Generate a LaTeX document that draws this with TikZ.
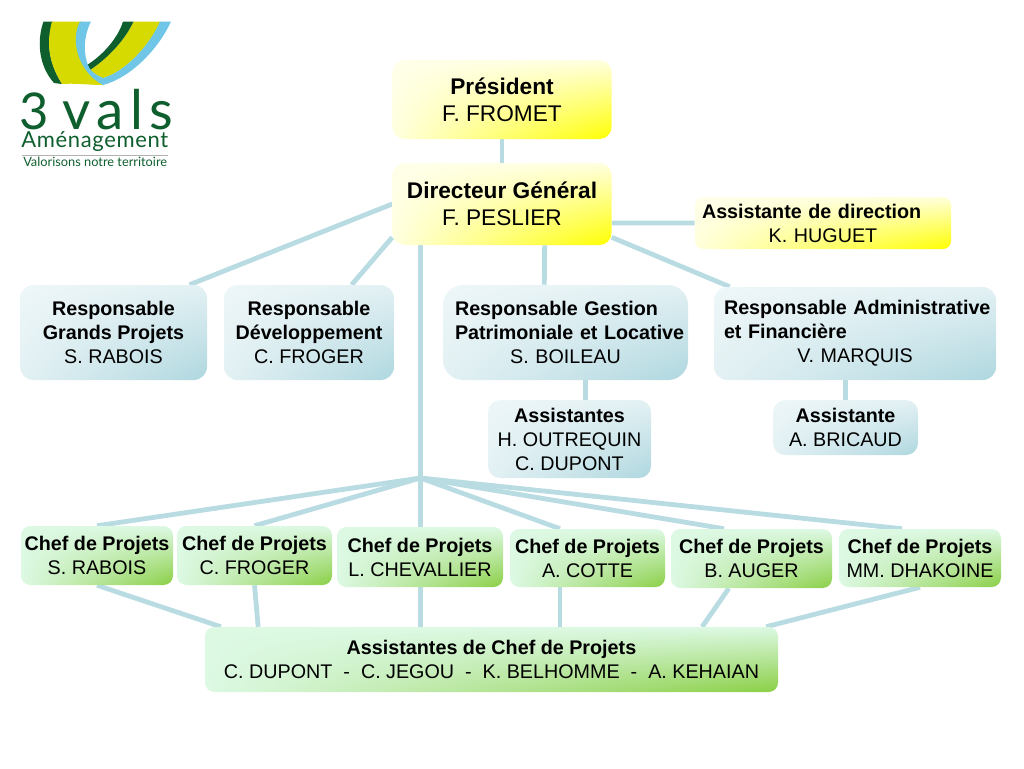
\documentclass[tikz,border=0pt]{standalone}
\usepackage{fontspec}
\setmainfont{Liberation Sans}
\newfontfamily\logofont{Lato}
\usetikzlibrary{backgrounds,shadings}
\definecolor{linkblue}{HTML}{B9DCE3}
\definecolor{logogreen}{HTML}{0F5F2E}
\definecolor{logolime}{HTML}{D6DA00}
\definecolor{logosky}{HTML}{6FC6E6}
\definecolor{chefpale}{HTML}{DDF9E4}
\definecolor{chefleaf}{HTML}{8ACF45}
\newcommand{\lefttitle}[1]{\makebox[\hsize][l]{\textbf{#1}}}

\begin{document}
\begin{tikzpicture}[
  x=0.75pt, y=-0.75pt,
  card/.style={shade, inner sep=0pt, align=center, rounded corners=9pt,
    font=\fontsize{14.8}{18}\selectfont},
  boxsize/.style 2 args={minimum width=#1*0.75pt, minimum height=#2*0.75pt},
  boss/.style={card, font=\fontsize{17}{20}\selectfont,
    upper left=yellow!8, upper right=yellow!12, lower left=yellow!12, lower right=yellow},
  aide/.style={card, upper left=yellow!8, upper right=yellow!14, lower left=yellow!14, lower right=yellow},
  resp/.style={card, upper left=linkblue!25, upper right=linkblue!40, lower left=linkblue!40, lower right=linkblue!115},
  chef/.style={card, rounded corners=7pt, upper left=chefpale, upper right=chefpale,
    lower left=chefpale, lower right=chefleaf},
  link/.style={linkblue, line width=3.6pt}]
\useasboundingbox (0,0) rectangle (1024,768);
% logo
\fill[logogreen] (43.5,21.5) -- (53,21.5) .. controls (47,40) and (47,60) .. (62,84) -- (54,83) .. controls (38,65) and (37,40) .. (43.5,21.5) -- cycle;
\fill[logolime] (52,21.5) -- (82,21.5) .. controls (74,40) and (78,68) .. (103,85) .. controls (90,85) and (75,83) .. (62,84) .. controls (47,60) and (47,40) .. (52,21.5) -- cycle;
\fill[logolime] (133.5,21.5) -- (161,21.5) .. controls (150,45) and (125,72) .. (103,78) .. controls (98,76) and (93,73) .. (90,70) .. controls (108,58) and (125,40) .. (133.5,21.5) -- cycle;
\fill[logogreen] (123,21.5) -- (133.5,21.5) .. controls (125,40) and (108,58) .. (90,70) -- (87,65) .. controls (103,55) and (118,38) .. (123,21.5) -- cycle;
\fill[logosky] (80,21.5) -- (91,21.5) .. controls (84,35) and (82,55) .. (90,69) .. controls (93,73) and (98,76) .. (103,78) .. controls (125,72) and (150,45) .. (160,21.5) -- (171,21.5) .. controls (158,50) and (130,78) .. (103,85) .. controls (78,72) and (70,40) .. (80,21.5) -- cycle;
\node[anchor=base west, inner sep=0pt, logogreen] (logothree) at (19,129) {\logofont\fontsize{38}{38}\selectfont 3};
\node[anchor=base west, inner sep=0pt, logogreen] (logovals) at (62,129) {\logofont\fontsize{41}{41}\selectfont\addfontfeatures{LetterSpace=12}vals};
\node[anchor=base west, inner sep=0pt, logogreen] (logoam) at (21,147) {\logofont\fontsize{16.5}{17}\selectfont\addfontfeatures{LetterSpace=3}Aménagement};
\draw[gray!60, line width=0.5pt] (22,155.5) -- (168,155.5);
\node[anchor=base west, inner sep=0pt, logogreen] (logotag) at (23,166) {\logofont\fontsize{9.6}{10}\selectfont Valorisons notre territoire};
% direction
\node[boss, boxsize={219}{79}, rounded corners=9pt] (pres) at (502,99.5) {\textbf{Président}\\F. FROMET};
\node[boss, boxsize={219}{82}, rounded corners=9pt] (dg) at (502,204) {\textbf{Directeur Général}\\F. PESLIER};
\node[aide, boxsize={256}{52}, rounded corners=6pt, text width=242*0.75pt] (adir) at (823,223)
  {\lefttitle{Assistante de direction}\\K. HUGUET};
% responsables
\node[resp, boxsize={187}{95}, rounded corners=10pt] (gp) at (113.5,332.5) {\textbf{Responsable}\\\textbf{Grands Projets}\\S. RABOIS};
\node[resp, boxsize={170}{95}, rounded corners=10pt] (dev) at (309,332.5) {\textbf{Responsable}\\\textbf{Développement}\\C. FROGER};
\node[resp, boxsize={245}{95}, rounded corners=15pt, text width=221*0.75pt] (gpl) at (565.5,332.5)
  {\lefttitle{Responsable Gestion}\\\lefttitle{Patrimoniale et Locative}\\S. BOILEAU};
\node[resp, boxsize={282}{93}, rounded corners=10pt, text width=262*0.75pt] (raf) at (855,333.5)
  {\lefttitle{Responsable Administrative}\\\lefttitle{et Financière}\\V. MARQUIS};
\node[resp, boxsize={163}{78}] (asgpl) at (569.5,439) {\textbf{Assistantes}\\H. OUTREQUIN\\C. DUPONT};
\node[resp, boxsize={145}{55}] (asraf) at (845.5,427.5) {\textbf{Assistante}\\A. BRICAUD};
% chefs de projets
\foreach \n/\xc/\yc/\bw/\bh/\who in {cp1/97/555.5/152/59/S. RABOIS, cp2/254.5/555.5/155/59/C. FROGER,
  cp3/420/557/166/60/L. CHEVALLIER, cp4/587.5/558/155/58/A. COTTE,
  cp5/751.5/558.5/161/59/B. AUGER, cp6/920/558/162/58/MM. DHAKOINE}{
  \node[chef, boxsize={\bw}{\bh}] (\n) at (\xc,\yc) {\textbf{Chef de Projets}\\\who};
}
\node[chef, boxsize={573}{65}] (acp) at (491.5,659.5)
  {\textbf{Assistantes de Chef de Projets}\\C. DUPONT~~-~~C. JEGOU~~-~~K. BELHOMME~~-~~A. KEHAIAN};
\coordinate (hub) at (420.5,478);
% connectors
\begin{scope}[on background layer]
\draw[link] (pres) -- (dg);
\draw[link] (dg.west) -- ([xshift=57pt]gp.north);
\draw[link] ([yshift=-25pt]dg.west) -- ([xshift=32pt]dev.north);
\draw[link] ([xshift=32pt]dg.south) -- ([xshift=-15.9pt]gpl.north);
\draw[link] ([yshift=-14.2pt]dg.east) -- (adir.west);
\draw[link] ([yshift=-25pt]dg.east) -- ([xshift=-94pt]raf.north);
\draw[link] (hub |- dg.south) -- (hub) -- (hub |- cp3.north);
\draw[link] ([xshift=15pt]gpl.south) -- ([xshift=12pt]asgpl.north);
\draw[link] (raf.south -| asraf) -- (asraf);
\foreach \n/\dx in {cp1/0, cp2/0, cp4/-20.6, cp5/-20.6, cp6/-13.5}{
  \draw[link] (hub) -- ([xshift=\dx pt]\n.north);
}
\draw[link] (cp1.south) -- ([xshift=-203pt]acp.north);
\draw[link] (cp2.south) -- ([xshift=-175pt]acp.north);
\draw[link] (hub |- cp3.south) -- (hub |- acp.north);
\draw[link] ([xshift=-20.6pt]cp4.south) -- ([xshift=51.4pt]acp.north);
\draw[link] ([xshift=-17pt]cp5.south) -- ([xshift=158pt]acp.north);
\draw[link] (cp6.south) -- ([xshift=206pt]acp.north);
\end{scope}
\end{tikzpicture}
\end{document}
